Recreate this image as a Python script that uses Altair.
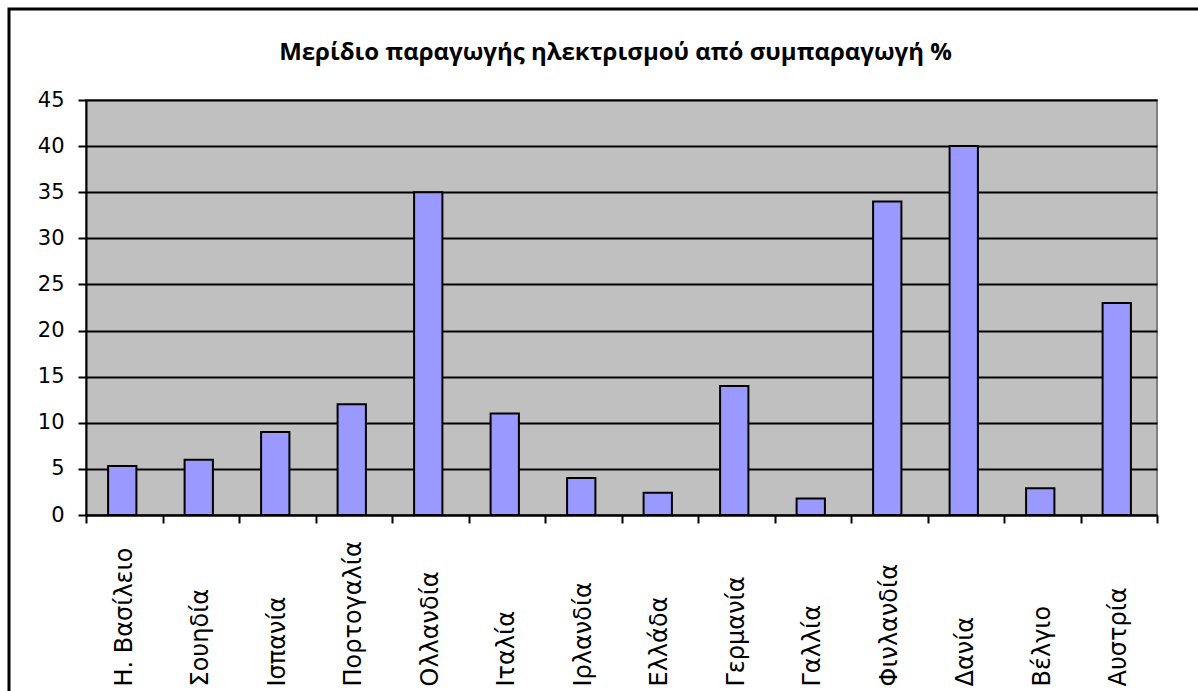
import altair as alt
import pandas as pd

# Share of electricity produced by cogeneration, per country (%)
countries = [
    "Η. Βασίλειο", "Σουηδία", "Ισπανία", "Πορτογαλία", "Ολλανδία", "Ιταλία",
    "Ιρλανδία", "Ελλάδα", "Γερμανία", "Γαλλία", "Φινλανδία", "Δανία",
    "Βέλγιο", "Αυστρία",
]
shares = [5.3, 6, 9, 12, 35, 11, 4, 2.4, 14, 1.8, 34, 40, 2.9, 23]
y_ticks = [0, 5, 10, 15, 20, 25, 30, 35, 40, 45]

df = pd.DataFrame({"country": countries, "share": shares})

W, H = 1071, 415
PAD = {"left": 86, "top": 100, "right": 41, "bottom": 176}

bars = alt.Chart(df).mark_bar(
    width=alt.RelativeBandSize(0.37),
    fill="#9999FF",
    stroke="black",
    strokeWidth=2,
    xOffset=-2,
).encode(
    x=alt.X(
        "country:N",
        sort=None,
        title=None,
        scale=alt.Scale(paddingInner=0, paddingOuter=0),
        axis=alt.Axis(
            tickBand="extent",
            tickSize=8,
            tickColor="black",
            tickWidth=2,
            domainColor="black",
            domainWidth=2,
            labelAngle=-90,
            labelAlign="left",
            labelBaseline="middle",
            labelPadding=163,
            labelFont="DejaVu Sans",
            labelFontSize=24,
            labelColor="black",
            labelOverlap=False,
            labelBound=False,
            grid=False,
        ),
    ),
    y=alt.Y(
        "share:Q",
        title=None,
        scale=alt.Scale(domain=[0, 45], nice=False),
        axis=alt.Axis(
            values=y_ticks,
            tickSize=8,
            tickColor="black",
            tickWidth=2,
            domainColor="black",
            domainWidth=2,
            labelPadding=14,
            labelFont="DejaVu Sans",
            labelFontSize=21,
            labelColor="black",
            grid=True,
            gridColor="black",
            gridWidth=2,
            gridOpacity=1,
        ),
    ),
)

# Outer frame around the whole figure
frame = alt.Chart(alt.Data(values=[{}])).mark_rect(
    filled=False, stroke="black", strokeWidth=3
).encode(
    x=alt.value(-77),
    y=alt.value(-91),
    x2=alt.value(W + PAD["right"] + 20),
    y2=alt.value(H + PAD["bottom"] + 20),
)

chart = alt.layer(bars, frame).properties(
    width=W,
    height=H,
    autosize=alt.AutoSizeParams(type="none"),
    padding=PAD,
    background="white",
    title=alt.TitleParams(
        "Μερίδιο παραγωγής ηλεκτρισμού από συμπαραγωγή %",
        font="Open Sans",
        fontSize=24,
        fontWeight="bold",
        color="black",
        anchor="middle",
        offset=-57,
        dx=-6,
    ),
).configure_view(
    fill="#C0C0C0",
    stroke="#808080",
    strokeWidth=2,
)

chart.save("out.html", embed_options={"renderer": "svg", "actions": False})
